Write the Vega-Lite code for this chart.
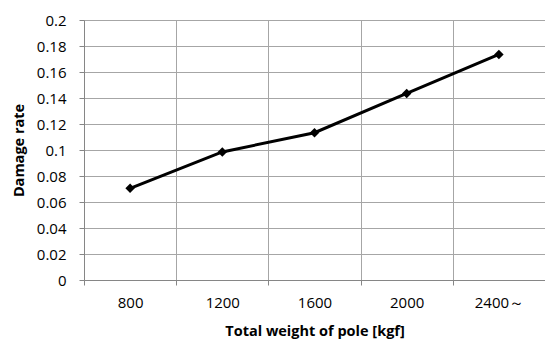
{
  "$schema": "https://vega.github.io/schema/vega-lite/v6.json",
  "width": 461,
  "height": 260,
  "autosize": {"type": "none"},
  "padding": {"left": 84, "top": 20, "right": 0, "bottom": 67},
  "background": "white",
  "config": {
    "view": {"stroke": null},
    "font": "Open Sans",
    "axis": {
      "labelFont": "Open Sans",
      "titleFont": "Open Sans",
      "labelFontSize": 15,
      "titleFontSize": 14.5,
      "labelColor": "#000000",
      "titleColor": "#000000",
      "domainColor": "#868686",
      "tickColor": "#868686",
      "gridColor": "#a6a6a6",
      "gridWidth": 1,
      "tickSize": 5
    }
  },
  "data": {
    "values": [
      {"weight": "800", "rate": 0.0705},
      {"weight": "1200", "rate": 0.0985},
      {"weight": "1600", "rate": 0.1133},
      {"weight": "2000", "rate": 0.1435},
      {"weight": "2400～", "rate": 0.1735}
    ]
  },
  "encoding": {
    "x": {
      "field": "weight",
      "type": "ordinal",
      "sort": null,
      "scale": {"paddingInner": 0, "paddingOuter": 0},
      "axis": {
        "title": "Total weight of pole [kgf]",
        "labelAngle": 0,
        "tickBand": "extent",
        "grid": true,
        "labelPadding": 10,
        "titlePadding": 14
      }
    },
    "y": {
      "field": "rate",
      "type": "quantitative",
      "scale": {"domain": [0, 0.2], "nice": false},
      "axis": {
        "title": "Damage rate",
        "values": [0, 0.02, 0.04, 0.06, 0.08, 0.1, 0.12, 0.14, 0.16, 0.18, 0.2],
        "format": "~g",
        "labelPadding": 13,
        "titlePadding": 10,
        "domain": true
      }
    }
  },
  "layer": [
    {"mark": {"type": "line", "color": "#000000", "strokeWidth": 3}},
    {"mark": {"type": "point", "shape": "diamond", "filled": true, "color": "#000000", "opacity": 1, "size": 90}}
  ]
}
